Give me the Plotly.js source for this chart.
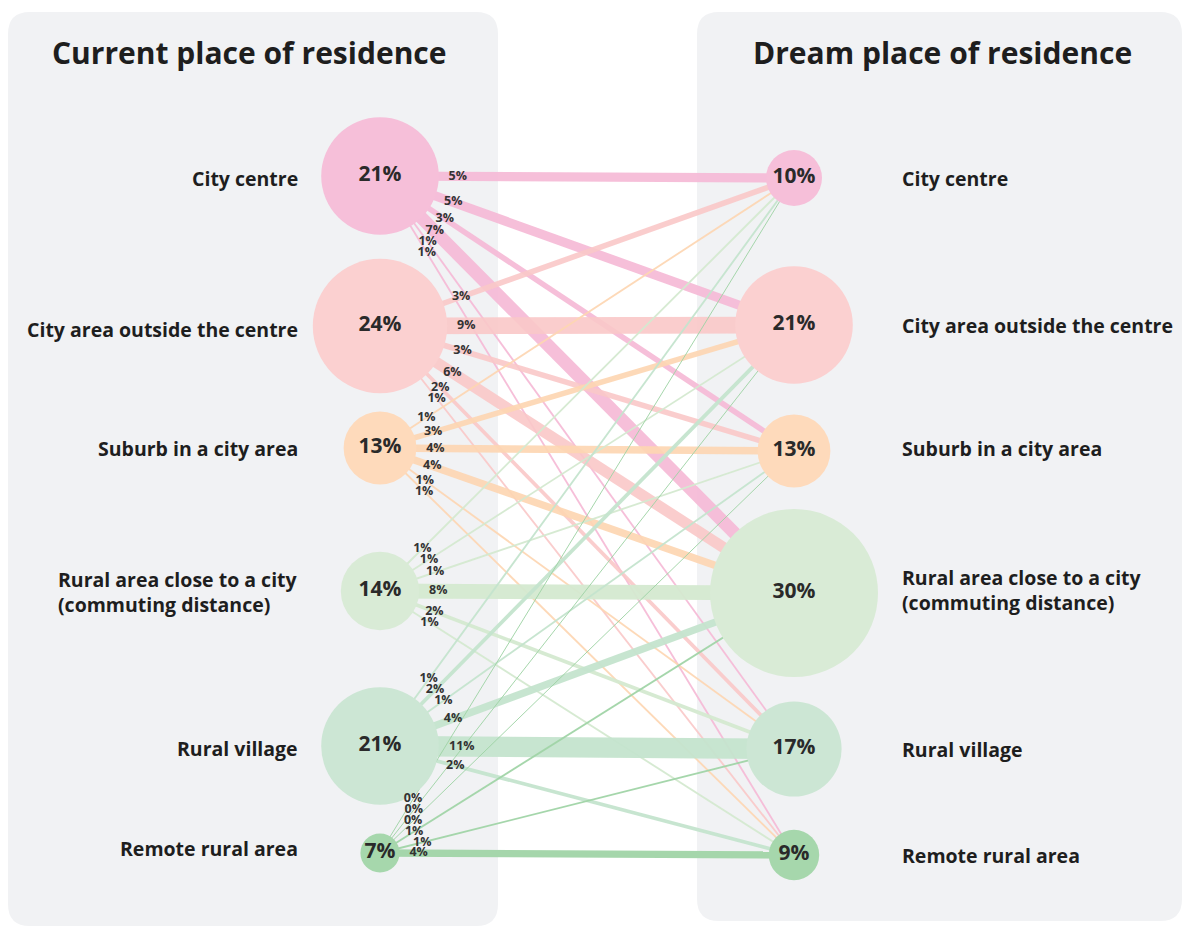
<!DOCTYPE html>
<html>
<head>
<meta charset="utf-8">
<script src="https://cdn.plot.ly/plotly-3.0.1.min.js"></script>
<style>html,body{margin:0;padding:0;background:#fff;}#chart{width:1182px;height:926px;}</style>
</head>
<body>
<div id="chart"></div>
<script>
// ---------- DATA ----------
const categories = ["City centre", "City area outside the centre", "Suburb in a city area",
  "Rural area close to a city<br>(commuting distance)", "Rural village", "Remote rural area"];
const currentPct = [21, 24, 13, 14, 21, 7];
const dreamPct = [10, 21, 13, 30, 17, 9];
// flows from each current place to each dream place (% of all respondents)
const fromCityCentre = [5, 5, 3, 7, 1, 1];
const fromCityArea = [3, 9, 3, 6, 2, 1];
const fromSuburb = [1, 3, 4, 4, 1, 1];
const fromRuralClose = [1, 1, 1, 8, 2, 1];
const fromRuralVillage = [1, 2, 1, 4, 11, 2];
const fromRemote = [0, 0, 0, 1, 1, 4];
const flows = [fromCityCentre, fromCityArea, fromSuburb, fromRuralClose, fromRuralVillage, fromRemote];

// ---------- LAYOUT / STYLE ----------
const colors = ["#f6bfd9", "#fbd0d0", "#fedabb", "#d9ebd6", "#cce6d4", "#a6d7ac"];
const lineColors = ["rgba(245,186,214,0.92)", "rgba(250,200,200,0.9)", "rgba(253,214,178,0.92)",
  "rgba(212,233,208,0.95)", "rgba(196,228,206,0.95)", "rgba(160,212,166,0.95)"];
const leftX = 380, rightX = 794;
const leftY = [176, 326, 448, 591, 746, 853];
const rightY = [178, 325, 451, 593, 749, 855];
const radiusPerPct = 2.8;
const widthPerPct = 1.85;
const labelGap = 19, labelSpacing = 10.8;
const textColor = "#2a2a2a";
const FONT = "Open Sans";

const traces = [];
// flow lines
for (let i = 0; i < 6; i++) {
  for (let j = 0; j < 6; j++) {
    const v = flows[i][j];
    traces.push({
      type: "scatter", mode: "lines",
      x: [leftX, rightX], y: [leftY[i], rightY[j]],
      line: {color: lineColors[i], width: Math.max(1, v * widthPerPct)},
      hoverinfo: "skip", showlegend: false
    });
  }
}
// circles
traces.push({
  type: "scatter", mode: "markers+text",
  x: currentPct.map(() => leftX), y: leftY,
  marker: {size: currentPct.map(p => 2 * radiusPerPct * p), color: colors, line: {width: 0}, opacity: 1},
  text: currentPct.map(p => p + "%"), textposition: "middle center",
  textfont: {family: FONT, size: 21, color: textColor, weight: 700},
  hoverinfo: "skip", showlegend: false
});
traces.push({
  type: "scatter", mode: "markers+text",
  x: dreamPct.map(() => rightX), y: rightY,
  marker: {size: dreamPct.map(p => 2 * radiusPerPct * p), color: colors, line: {width: 0}, opacity: 1},
  text: dreamPct.map(p => p + "%"), textposition: "middle center",
  textfont: {family: FONT, size: 21, color: textColor, weight: 700},
  hoverinfo: "skip", showlegend: false
});
// flow labels
const lx = [], ly = [], lt = [];
for (let i = 0; i < 6; i++) {
  const r = radiusPerPct * currentPct[i];
  const d0 = r + labelGap;
  const place = (j, d) => {
    const dx = rightX - leftX, dy = rightY[j] - leftY[i];
    const L = Math.hypot(dx, dy);
    return [d * dx / L, d * dy / L, dy / L];
  };
  let p = place(i, d0 + (flows[i][i] >= 10 ? 4 : 0));
  lx.push(leftX + p[0]); ly.push(leftY[i] + p[1]); lt.push(flows[i][i] + "%");
  let prev = p[1];
  for (let j = i + 1; j < 6; j++) {
    let q = place(j, d0);
    let d = d0;
    if (q[1] < prev + labelSpacing) d = Math.max(d0, (prev + labelSpacing) / q[2]);
    q = place(j, d);
    lx.push(leftX + q[0]); ly.push(leftY[i] + q[1]); lt.push(flows[i][j] + "%");
    prev = q[1];
  }
  prev = p[1];
  for (let j = i - 1; j >= 0; j--) {
    let q = place(j, d0);
    let d = d0;
    if (q[1] > prev - labelSpacing) d = Math.max(d0, (prev - labelSpacing) / q[2]);
    q = place(j, d);
    lx.push(leftX + q[0]); ly.push(leftY[i] + q[1]); lt.push(flows[i][j] + "%");
    prev = q[1];
  }
}
traces.push({
  type: "scatter", mode: "text", x: lx, y: ly, text: lt, textposition: "middle center",
  textfont: {family: FONT, size: 12.5, color: "#333", weight: 700},
  hoverinfo: "skip", showlegend: false
});

function roundRect(x0, y0, x1, y1, r) {
  return `M${x0 + r},${y0} L${x1 - r},${y0} Q${x1},${y0} ${x1},${y0 + r} L${x1},${y1 - r} Q${x1},${y1} ${x1 - r},${y1} ` +
    `L${x0 + r},${y1} Q${x0},${y1} ${x0},${y1 - r} L${x0},${y0 + r} Q${x0},${y0} ${x0 + r},${y0} Z`;
}

const annotations = [
  {x: 249, y: 52, text: "<b>Current place of residence</b>", showarrow: false, xanchor: "center", yanchor: "middle",
    font: {family: FONT, size: 30, color: "#1e1e1e"}},
  {x: 942, y: 52, text: "<b>Dream place of residence</b>", showarrow: false, xanchor: "center", yanchor: "middle",
    font: {family: FONT, size: 30, color: "#1e1e1e"}}
];
const leftLabelY = [178, 329, 448, 592, 748, 848];
const rightLabelY = [178, 325, 448, 590, 749, 855];
categories.forEach((c, k) => {
  annotations.push({x: 300, y: leftLabelY[k], text: "<b>" + c + "</b>", showarrow: false, xanchor: "right",
    yanchor: "middle", align: "left", font: {family: FONT, size: 19.5, color: "#1e1e1e"}});
  annotations.push({x: 900, y: rightLabelY[k], text: "<b>" + c + "</b>", showarrow: false, xanchor: "left",
    yanchor: "middle", align: "left", font: {family: FONT, size: 19.5, color: "#1e1e1e"}});
});

const layout = {
  width: 1182, height: 926,
  margin: {l: 0, r: 0, t: 0, b: 0},
  paper_bgcolor: "#ffffff", plot_bgcolor: "rgba(0,0,0,0)",
  xaxis: {range: [0, 1182], visible: false, fixedrange: true},
  yaxis: {range: [926, 0], visible: false, fixedrange: true},
  showlegend: false,
  shapes: [
    {type: "path", path: roundRect(8, 12, 498, 926, 22), xref: "x", yref: "y", fillcolor: "#f1f2f4", line: {width: 0}, layer: "below"},
    {type: "path", path: roundRect(697, 12, 1182, 921, 22), xref: "x", yref: "y", fillcolor: "#f1f2f4", line: {width: 0}, layer: "below"}
  ],
  annotations: annotations
};
Plotly.newPlot("chart", traces, layout, {displayModeBar: false, staticPlot: true});
</script>
</body>
</html>
